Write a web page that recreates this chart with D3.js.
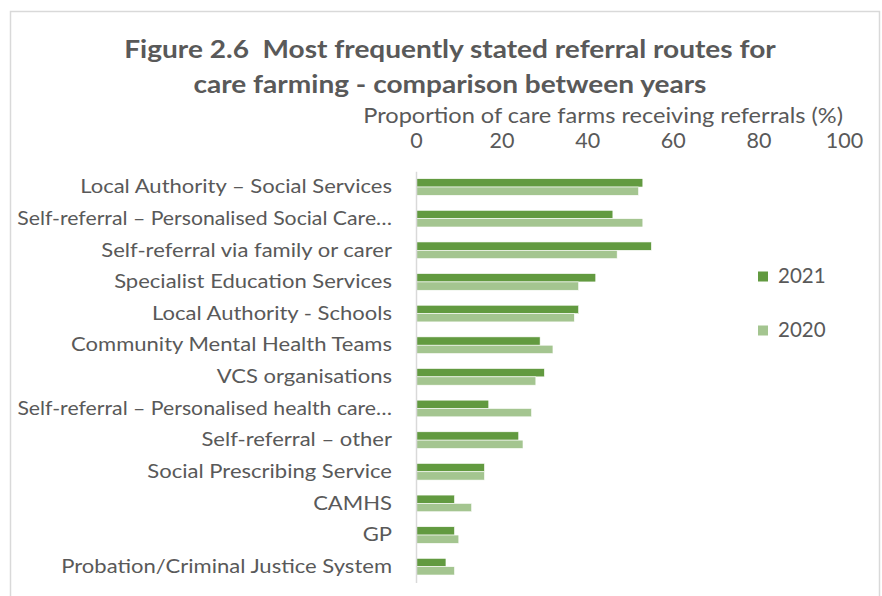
<!DOCTYPE html>
<html>
<head>
<meta charset="utf-8">
<script src="https://cdn.jsdelivr.net/npm/d3@7"></script>
<style>
  html, body { margin: 0; padding: 0; background: #ffffff; }
  svg { display: block; }
  text { font-family: Lato, "Open Sans", sans-serif; fill: #595959; }
</style>
</head>
<body>
<svg id="chart" width="882" height="596"></svg>
<script>
// Referral routes, top to bottom
const categories = [
  "Local Authority – Social Services",
  "Self-referral – Personalised Social Care…",
  "Self-referral via family or carer",
  "Specialist Education Services",
  "Local Authority - Schools",
  "Community Mental Health Teams",
  "VCS organisations",
  "Self-referral – Personalised health care…",
  "Self-referral – other",
  "Social Prescribing Service",
  "CAMHS",
  "GP",
  "Probation/Criminal Justice System"
];
// Proportion of care farms receiving referrals (%)
const values2021 = [53, 46, 55, 42, 38, 29, 30, 17, 24, 16, 9, 9, 7];
const values2020 = [52, 53, 47, 38, 37, 32, 28, 27, 25, 16, 13, 10, 9];
const seriesNames = ["2021", "2020"];
const xTicks = [0, 20, 40, 60, 80, 100];

const colors = { "2021": "#629A40", "2020": "#A4C590" };
const series = [
  { name: "2021", values: values2021 },
  { name: "2020", values: values2020 }
];

const FONT = "Lato, 'Open Sans', sans-serif";
// horizontal stretch of a text element around its anchor x
const stretch = (ax, s) => `translate(${ax},0) scale(${s},1) translate(${-ax},0)`;

const svg = d3.select("#chart");

// outer frame
svg.append("path")
  .attr("d", "M10.5,596 L10.5,11.5 L879.5,11.5 L879.5,596")
  .attr("fill", "none")
  .attr("stroke", "#d9d9d9")
  .attr("stroke-width", 1.5);

// title
const titleX = 450;
const title = svg.append("text")
  .attr("text-anchor", "middle")
  .attr("font-weight", "bold")
  .attr("font-size", 24.5)
  .attr("xml:space", "preserve")
  .attr("transform", stretch(titleX, 1.145));
title.append("tspan").attr("x", titleX).attr("y", 58)
  .text("Figure 2.6\u00a0 Most frequently stated referral routes for");
title.append("tspan").attr("x", titleX).attr("y", 93)
  .text("care farming - comparison between years");

const x = d3.scaleLinear().domain([0, 100]).range([416, 844]);
const y = d3.scaleBand().domain(categories).range([171.2, 582.5]).paddingInner(0).paddingOuter(0);
const inner = d3.scaleBand().domain(seriesNames).range([0, y.bandwidth()]).paddingOuter(0.9);

// axis title
svg.append("text")
  .attr("x", 843).attr("y", 123)
  .attr("text-anchor", "end")
  .attr("font-size", 20.5)
  .attr("transform", stretch(843, 1.15))
  .text("Proportion of care farms receiving referrals (%)");

// top value axis (labels only)
const xAxis = d3.axisTop(x).tickValues(xTicks).tickSize(0).tickPadding(0);
const gx = svg.append("g").attr("transform", "translate(0,148)").call(xAxis);
gx.select(".domain").remove();
gx.selectAll("text")
  .attr("font-size", 20.5)
  .attr("font-family", FONT)
  .attr("fill", "#595959")
  .attr("dy", 0)
  .attr("transform", "scale(1.05,1)");

// bars
const groups = svg.append("g").selectAll("g")
  .data(series)
  .join("g")
  .attr("fill", d => colors[d.name]);
groups.selectAll("rect")
  .data(d => d.values.map((v, i) => ({ name: d.name, cat: categories[i], v })))
  .join("rect")
  .attr("x", x(0))
  .attr("y", d => y(d.cat) + inner(d.name))
  .attr("width", d => x(d.v) - x(0))
  .attr("height", inner.bandwidth())
  .attr("stroke", "#ffffff")
  .attr("stroke-width", 0.6);

// category axis; labels are stretched, and squeezed if they would pass the left edge
const labelPad = 24;
const labelScale = 1.13;
const labelMaxWidth = x(0) - labelPad - 17;
const yAxis = d3.axisLeft(y).tickSize(0).tickPadding(labelPad);
const gy = svg.append("g").attr("transform", `translate(${x(0)},0)`).call(yAxis);
gy.select(".domain")
  .attr("stroke", "#d9d9d9")
  .attr("stroke-width", 1.5);
gy.selectAll("text")
  .attr("font-size", 19.5)
  .attr("font-family", FONT)
  .attr("fill", "#595959")
  .each(function () {
    const w = this.getComputedTextLength();
    const s = Math.min(labelScale, labelMaxWidth / w);
    d3.select(this)
      .attr("x", -labelPad / s)
      .attr("transform", `scale(${s},1)`);
  });

// legend
const legend = svg.append("g").selectAll("g")
  .data(seriesNames)
  .join("g")
  .attr("transform", (d, i) => `translate(758,${276 + i * 54})`);
legend.append("rect")
  .attr("x", 0).attr("y", -4.5)
  .attr("width", 10).attr("height", 10)
  .attr("fill", d => colors[d]);
legend.append("text")
  .attr("x", 20).attr("y", 0)
  .attr("dy", "0.35em")
  .attr("font-size", 20.5)
  .text(d => d);
</script>
</body>
</html>
